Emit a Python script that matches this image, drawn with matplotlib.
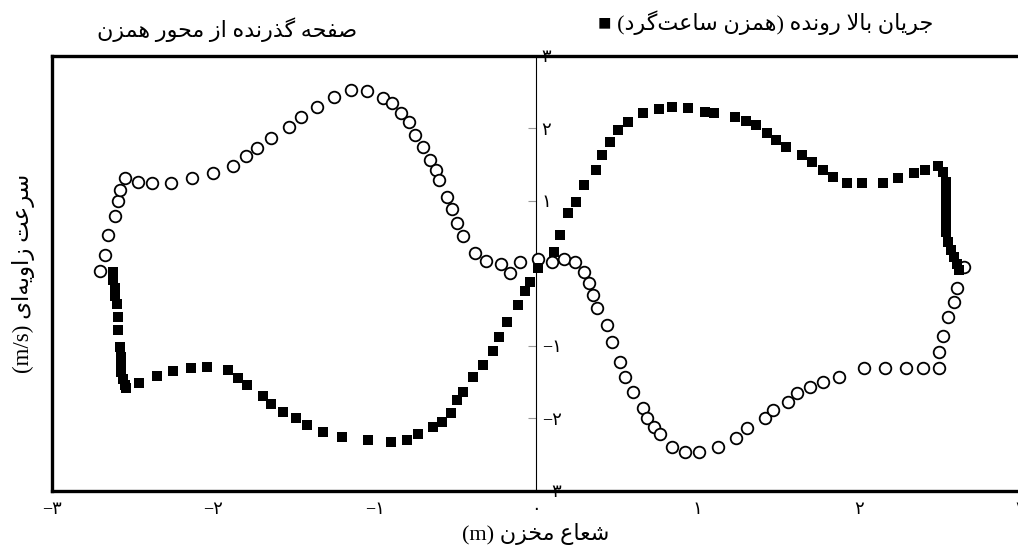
import matplotlib
matplotlib.use("Agg")
import matplotlib.pyplot as plt

plt.rcParams['font.family'] = ['Liberation Serif', 'DejaVu Sans']

# open circles: plane passing the impeller axis
circle_x = [-2.70, -2.67, -2.65, -2.61, -2.59, -2.58, -2.55, -2.47, -2.38, -2.26,
            -2.13, -2.00, -1.88, -1.80, -1.73, -1.64, -1.53, -1.46, -1.36, -1.25,
            -1.15, -1.05, -0.95, -0.89, -0.84, -0.79, -0.75, -0.70, -0.66, -0.62,
            -0.60, -0.55, -0.52, -0.49, -0.45, -0.38, -0.31, -0.22, -0.16, -0.10,
            0.01, 0.10, 0.17, 0.24, 0.30, 0.33, 0.35, 0.38, 0.44, 0.47,
            0.52, 0.55, 0.60, 0.66, 0.69, 0.73, 0.77, 0.84, 0.92, 1.01,
            1.13, 1.24, 1.31, 1.42, 1.47, 1.56, 1.62, 1.70, 1.78, 1.88,
            2.03, 2.16, 2.29, 2.40, 2.50, 2.50, 2.52, 2.55, 2.59, 2.61, 2.65]
circle_y = [0.03, 0.26, 0.53, 0.79, 1.00, 1.15, 1.32, 1.26, 1.25, 1.25,
            1.32, 1.39, 1.48, 1.62, 1.73, 1.87, 2.02, 2.16, 2.30, 2.43,
            2.53, 2.52, 2.42, 2.35, 2.21, 2.09, 1.91, 1.74, 1.57, 1.43,
            1.29, 1.05, 0.89, 0.70, 0.52, 0.28, 0.17, 0.13, 0.01, 0.16,
            0.20, 0.16, 0.20, 0.16, 0.02, -0.13, -0.30, -0.48, -0.71, -0.94,
            -1.22, -1.43, -1.63, -1.85, -1.99, -2.12, -2.21, -2.39, -2.46, -2.46,
            -2.39, -2.27, -2.13, -1.99, -1.88, -1.77, -1.65, -1.57, -1.50, -1.43,
            -1.30, -1.30, -1.30, -1.30, -1.30, -1.08, -0.86, -0.60, -0.39, -0.20, 0.09]

# filled squares: upward flow (clockwise impeller)
square_x = [-2.62, -2.62, -2.61, -2.61, -2.60, -2.59, -2.59, -2.58, -2.57, -2.57,
            -2.57, -2.56, -2.55, -2.54, -2.46, -2.35, -2.25, -2.14, -2.04, -1.91,
            -1.85, -1.79, -1.69, -1.64, -1.57, -1.49, -1.42, -1.32, -1.20, -1.04,
            -0.90, -0.80, -0.73, -0.64, -0.58, -0.53, -0.49, -0.45, -0.39, -0.33,
            -0.27, -0.23, -0.18, -0.11, -0.07, -0.04, 0.01, 0.11, 0.15, 0.20,
            0.25, 0.30, 0.37, 0.41, 0.46, 0.51, 0.57, 0.66, 0.76, 0.84,
            0.94, 1.05, 1.10, 1.23, 1.30, 1.36, 1.43, 1.49, 1.55, 1.65,
            1.71, 1.78, 1.84, 1.93, 2.02, 2.15, 2.24, 2.34, 2.41, 2.49,
            2.52, 2.54, 2.54, 2.54, 2.54, 2.54, 2.54, 2.55, 2.57, 2.59, 2.61, 2.62]
square_y = [0.02, -0.09, -0.20, -0.31, -0.42, -0.60, -0.78, -1.01, -1.15, -1.26,
            -1.36, -1.46, -1.54, -1.58, -1.51, -1.41, -1.34, -1.30, -1.29, -1.33,
            -1.44, -1.54, -1.69, -1.80, -1.91, -1.99, -2.09, -2.19, -2.26, -2.30,
            -2.32, -2.30, -2.21, -2.12, -2.05, -1.92, -1.74, -1.63, -1.43, -1.26,
            -1.07, -0.88, -0.67, -0.43, -0.24, -0.12, 0.08, 0.30, 0.53, 0.83,
            0.99, 1.22, 1.43, 1.63, 1.81, 1.98, 2.09, 2.21, 2.27, 2.30,
            2.28, 2.23, 2.21, 2.16, 2.10, 2.05, 1.94, 1.84, 1.74, 1.63,
            1.54, 1.43, 1.33, 1.25, 1.25, 1.25, 1.32, 1.39, 1.43, 1.48,
            1.40, 1.26, 1.12, 0.99, 0.85, 0.71, 0.57, 0.43, 0.32, 0.23, 0.13, 0.05]

x_ticks = [-3, -2, -1, 0, 1, 2, 3]
x_tick_labels = ['\u2212\u06f3', '\u2212\u06f2', '\u2212\u06f1', '\u06f0', '\u06f1', '\u06f2', '\u06f3']
y_ticks = [-3, -2, -1, 1, 2, 3]
y_tick_labels = ['\u2212\u06f3', '\u2212\u06f2', '\u2212\u06f1', '\u06f1', '\u06f2', '\u06f3']

# presentation forms (isolated, final, initial, medial); two entries = right-joining only
FORMS = {
    'ا': ('\uFE8D', '\uFE8E'),
    'ب': ('\uFE8F', '\uFE90', '\uFE91', '\uFE92'),
    'ت': ('\uFE95', '\uFE96', '\uFE97', '\uFE98'),
    'ج': ('\uFE9D', '\uFE9E', '\uFE9F', '\uFEA0'),
    'ح': ('\uFEA1', '\uFEA2', '\uFEA3', '\uFEA4'),
    'خ': ('\uFEA5', '\uFEA6', '\uFEA7', '\uFEA8'),
    'د': ('\uFEA9', '\uFEAA'),
    'ذ': ('\uFEAB', '\uFEAC'),
    'ر': ('\uFEAD', '\uFEAE'),
    'ز': ('\uFEAF', '\uFEB0'),
    'س': ('\uFEB1', '\uFEB2', '\uFEB3', '\uFEB4'),
    'ش': ('\uFEB5', '\uFEB6', '\uFEB7', '\uFEB8'),
    'ص': ('\uFEB9', '\uFEBA', '\uFEBB', '\uFEBC'),
    'ع': ('\uFEC9', '\uFECA', '\uFECB', '\uFECC'),
    'ف': ('\uFED1', '\uFED2', '\uFED3', '\uFED4'),
    'ل': ('\uFEDD', '\uFEDE', '\uFEDF', '\uFEE0'),
    'م': ('\uFEE1', '\uFEE2', '\uFEE3', '\uFEE4'),
    'ن': ('\uFEE5', '\uFEE6', '\uFEE7', '\uFEE8'),
    'ه': ('\uFEE9', '\uFEEA', '\uFEEB', '\uFEEC'),
    'و': ('\uFEED', '\uFEEE'),
    'ی': ('\uFBFC', '\uFBFD', '\uFBFE', '\uFBFF'),
    'گ': ('\uFB92', '\uFB93', '\uFB94', '\uFB95'),
}


def dual(c):
    return c in FORMS and len(FORMS[c]) == 4


def rtl(text):
    # shape persian letters by hand and return them in visual order
    out = []
    i = 0
    while i < len(text):
        c = text[i]
        if c not in FORMS:
            if c != '\u200c':
                out.append(c)
            i += 1
            continue
        link_prev = i > 0 and dual(text[i - 1])
        if c == 'ل' and i + 1 < len(text) and text[i + 1] == 'ا':
            out.append('\uFEFC' if link_prev else '\uFEFB')
            i += 2
            continue
        link_next = dual(c) and i + 1 < len(text) and text[i + 1] in FORMS
        f = FORMS[c]
        if link_prev and link_next:
            out.append(f[3])
        elif link_prev:
            out.append(f[1])
        elif link_next:
            out.append(f[2])
        else:
            out.append(f[0])
        i += 1
    return ''.join(reversed(out))


fig = plt.figure(figsize=(10.18, 5.57), dpi=100)
ax = fig.add_axes([0.0511, 0.1185, 0.951, 0.781])

ax.scatter(circle_x, circle_y, s=70, marker='o', facecolors='white',
           edgecolors='black', linewidths=1.3, zorder=3)
ax.scatter(square_x, square_y, s=55, marker='s', color='black',
           linewidths=0, zorder=4)

ax.set_xlim(-3, 3)
ax.set_ylim(-3, 3)

for side in ['top', 'bottom', 'left']:
    ax.spines[side].set_linewidth(2.4)
    ax.spines[side].set_color('black')
ax.spines['right'].set_visible(False)

ax.set_xticks(x_ticks)
ax.set_xticklabels(x_tick_labels, fontsize=13)
ax.tick_params(axis='x', length=0, pad=7)
ax.set_yticks([])

# vertical axis through the tank centre
yax = ax.secondary_yaxis(0.5)
yax.spines['left'].set_color('#999999')
yax.spines['left'].set_linewidth(1.3)
yax.set_yticks(y_ticks)
yax.set_yticklabels(y_tick_labels, fontsize=13)
yax.tick_params(axis='y', direction='in', length=6, color='#999999', pad=4)

ax.set_xlabel('(m) ' + rtl('شعاع مخزن'), fontsize=16, labelpad=4)
ax.set_ylabel('(m/s) ' + rtl('سرعت زاویه‌ای'), fontsize=16.5, labelpad=12)

fig.text(0.223, 0.946, rtl('صفحه گذرنده از محور همزن'), fontsize=16,
         ha='center', va='center')
fig.text(0.752, 0.959, '\u25a0 (' + rtl('همزن ساعت‌گرد') + ') ' + rtl('جریان بالا رونده'),
         fontsize=16, ha='center', va='center')

fig.savefig('out.png', dpi=100)
